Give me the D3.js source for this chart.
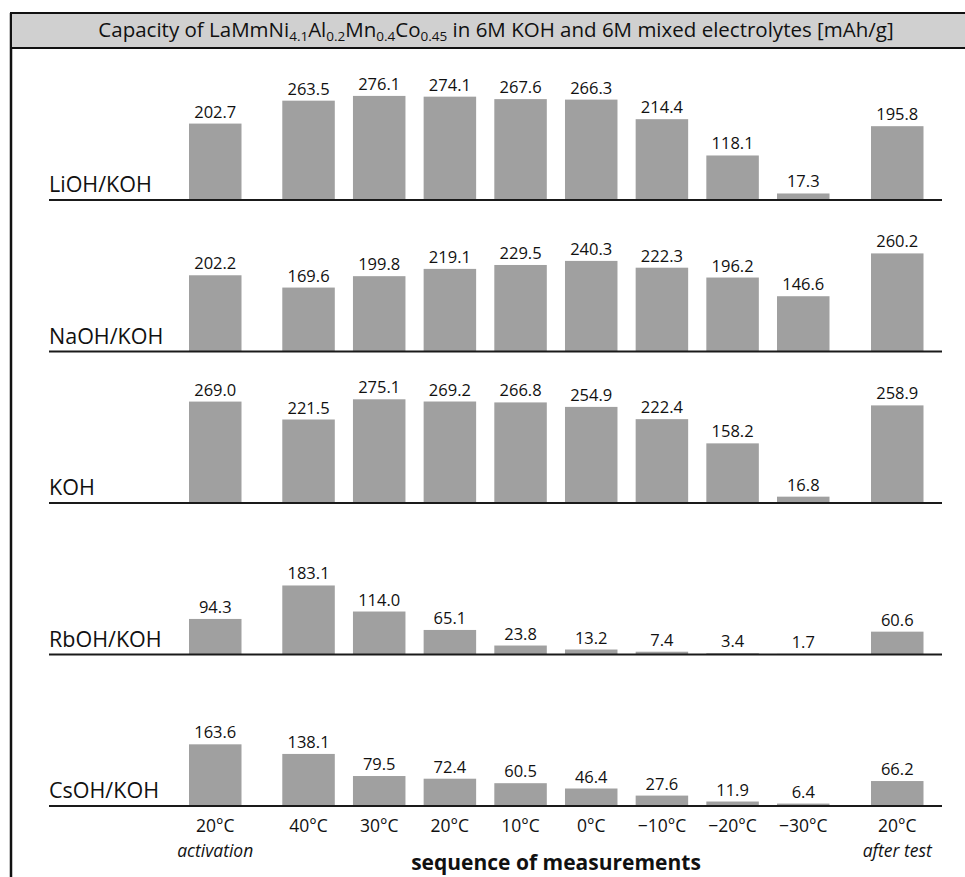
<!DOCTYPE html>
<html>
<head>
<meta charset="utf-8">
<script src="https://cdn.jsdelivr.net/npm/d3@7"></script>
<style>
  body { margin: 0; background: #fff; }
  text { font-family: "Open Sans", sans-serif; fill: #111; }
</style>
</head>
<body>
<script>
var width = 965;
var height = 877;

// measurement sequence (x categories)
var temps = ["20°C", "40°C", "30°C", "20°C", "10°C", "0°C", "\u221210°C", "\u221220°C", "\u221230°C", "20°C"];
var notes = ["activation", "", "", "", "", "", "", "", "", "after test"];

// electrolytes (one row each)
var electrolytes = ["LiOH/KOH", "NaOH/KOH", "KOH", "RbOH/KOH", "CsOH/KOH"];

// capacities in mAh/g
var lioh = [202.7, 263.5, 276.1, 274.1, 267.6, 266.3, 214.4, 118.1, 17.3, 195.8];
var naoh = [202.2, 169.6, 199.8, 219.1, 229.5, 240.3, 222.3, 196.2, 146.6, 260.2];
var koh  = [269.0, 221.5, 275.1, 269.2, 266.8, 254.9, 222.4, 158.2, 16.8, 258.9];
var rboh = [94.3, 183.1, 114.0, 65.1, 23.8, 13.2, 7.4, 3.4, 1.7, 60.6];
var csoh = [163.6, 138.1, 79.5, 72.4, 60.5, 46.4, 27.6, 11.9, 6.4, 66.2];

var series = [lioh, naoh, koh, rboh, csoh];

// slot positions: extra gap after activation and before the final step
var gaps = [1.32, 1, 1, 1, 1, 1, 1, 1, 1.33];
var slots = [0];
gaps.forEach(function (g) { slots.push(slots[slots.length - 1] + g); });

var barW = 52.5;
var x = d3.scaleLinear().domain([0, slots[slots.length - 1]]).range([189, 871]);
var h = d3.scaleLinear().domain([0, 300]).range([0, 113.1]);
var row = d3.scalePoint().domain(electrolytes).range([200, 806]);
var fmt = d3.format(".1f");

var svg = d3.select("body").append("svg")
  .attr("width", width)
  .attr("height", height);

// frame + title box
svg.append("line")
  .attr("x1", 11).attr("x2", 11)
  .attr("y1", 13).attr("y2", height)
  .attr("stroke", "#111").attr("stroke-width", 2.5);

svg.append("rect")
  .attr("x", 11).attr("y", 13)
  .attr("width", 980).attr("height", 35)
  .attr("fill", "#d0d0d0")
  .attr("stroke", "#111").attr("stroke-width", 2);

var title = svg.append("text")
  .attr("x", 496).attr("y", 37)
  .attr("text-anchor", "middle")
  .style("font-size", "20.5px");

var parts = [["Capacity of LaMmNi", 0], ["4.1", 1], ["Al", 0], ["0.2", 1], ["Mn", 0], ["0.4", 1], ["Co", 0], ["0.45", 1],
  [" in 6M KOH and 6M mixed electrolytes [mAh/g]", 0]];
var prevSub = 0;
parts.forEach(function (p) {
  var t = title.append("tspan").text(p[0]);
  if (p[1]) t.style("font-size", "13.5px");
  if (p[1] !== prevSub) t.attr("dy", p[1] ? 4 : -4);
  prevSub = p[1];
});

// rows
var rows = svg.selectAll("g.row")
  .data(electrolytes)
  .enter()
  .append("g")
  .attr("class", "row")
  .attr("transform", function (d) { return "translate(0," + row(d) + ")"; });

rows.append("text")
  .attr("x", 49).attr("y", -8)
  .style("font-size", "21.5px")
  .text(function (d) { return d; });

rows.each(function (name, r) {
  var g = d3.select(this);
  var vals = series[r];
  g.selectAll("rect")
    .data(vals)
    .enter()
    .append("rect")
    .attr("x", function (d, i) { return x(slots[i]); })
    .attr("y", function (d) { return -h(d); })
    .attr("width", barW)
    .attr("height", function (d) { return h(d); })
    .attr("fill", "#a0a0a0");
  g.selectAll("text.val")
    .data(vals)
    .enter()
    .append("text")
    .attr("class", "val")
    .attr("x", function (d, i) { return x(slots[i]) + barW / 2; })
    .attr("y", function (d) { return -h(d) - 6; })
    .attr("text-anchor", "middle")
    .style("font-size", "16.5px")
    .text(function (d) { return fmt(d); });
});

rows.append("line")
  .attr("x1", 49).attr("x2", 942)
  .attr("y1", 0).attr("y2", 0)
  .attr("stroke", "#1a1a1a").attr("stroke-width", 2);

// x labels
var base = row(electrolytes[electrolytes.length - 1]);
svg.selectAll("text.temp")
  .data(temps)
  .enter()
  .append("text")
  .attr("class", "temp")
  .attr("x", function (d, i) { return x(slots[i]) + barW / 2; })
  .attr("y", base + 26)
  .attr("text-anchor", "middle")
  .style("font-size", "17.5px")
  .text(function (d) { return d; });

svg.selectAll("text.note")
  .data(notes)
  .enter()
  .append("text")
  .attr("class", "note")
  .attr("x", function (d, i) { return x(slots[i]) + barW / 2; })
  .attr("y", base + 51)
  .attr("text-anchor", "middle")
  .style("font-size", "17.5px")
  .style("font-style", "italic")
  .text(function (d) { return d; });

svg.append("text")
  .attr("x", 556).attr("y", base + 64)
  .attr("text-anchor", "middle")
  .style("font-size", "21px")
  .style("font-weight", "bold")
  .text("sequence of measurements");
</script>
</body>
</html>
